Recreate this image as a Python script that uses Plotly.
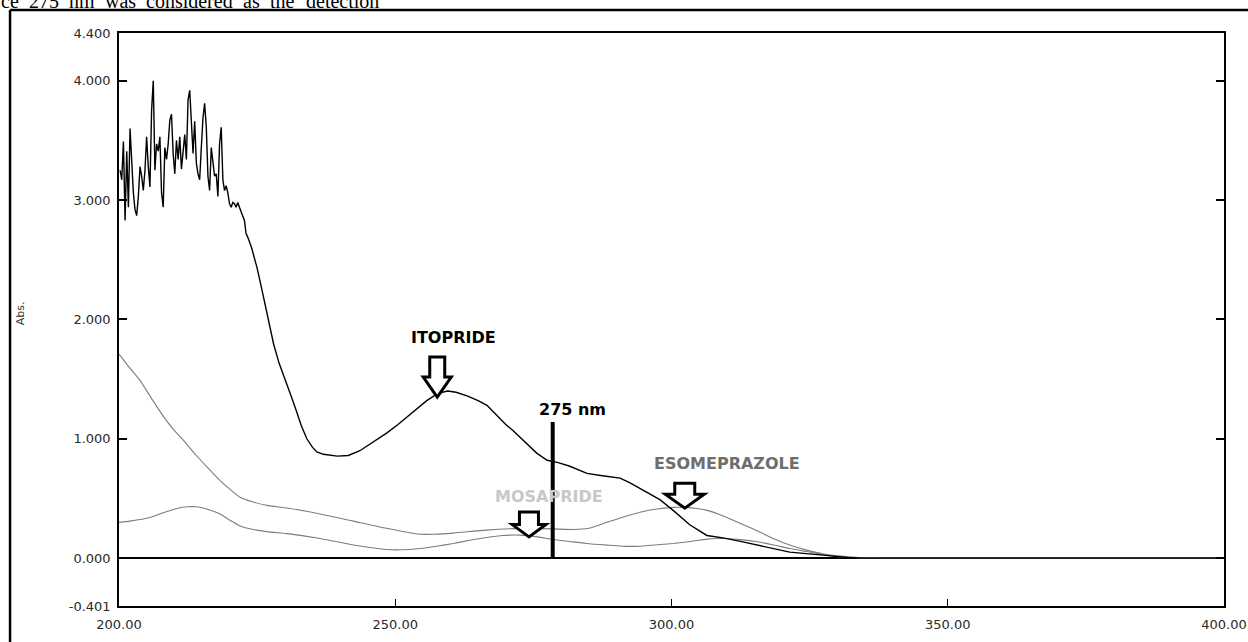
import plotly.graph_objects as go

# ---- Itopride (black trace): noisy short-wavelength region, then smooth band ----
itopride_nm = [
    200.2, 200.5, 200.8, 201.1, 201.4, 201.7, 202.0, 202.3, 202.6, 202.9,
    203.2, 203.5, 203.8, 204.1, 204.4, 204.7, 205.0, 205.3, 205.6, 205.9,
    206.2, 206.5, 206.8, 207.1, 207.4, 207.7, 208.0, 208.3, 208.6, 208.9,
    209.2, 209.5, 209.8, 210.1, 210.4, 210.7, 211.0, 211.3, 211.6, 211.9,
    212.2, 212.5, 212.8, 213.1, 213.4, 213.7, 214.0, 214.3, 214.6, 214.9,
    215.2, 215.5, 215.8, 216.1, 216.4, 216.7, 217.0, 217.3, 217.6, 217.9,
    218.2, 218.5, 218.8, 219.1, 219.4, 219.7, 220.0, 220.3, 220.6, 220.9,
    221.2, 221.5, 221.8, 222.1, 222.4, 222.7, 223.0, 223.3,
    224.0, 225.0, 226.0, 227.0, 228.0, 229.0, 230.4, 231.3, 232.2, 233.0,
    234.0, 235.0, 235.8, 237.0, 239.5, 241.5, 243.6, 246.0, 248.5, 250.5,
    252.1, 254.0, 255.7, 257.7, 259.5, 261.0, 263.0, 265.0, 266.6, 268.5,
    270.0, 271.3, 273.5, 275.6, 277.5, 279.5, 281.6, 284.7, 287.5, 290.7,
    292.5, 294.8, 297.9, 300.3, 303.3, 306.4, 309.3, 312.5, 315.5, 321.4,
    327.4, 331.8, 335.0, 400.0,
]
itopride_abs = [
    3.25, 3.17, 3.49, 2.83, 3.41, 2.94, 3.60, 3.34, 3.06, 2.92,
    2.87, 3.03, 3.28, 3.20, 3.08, 3.25, 3.53, 3.28, 3.11, 3.75,
    4.00, 3.25, 3.47, 3.41, 3.53, 3.06, 2.94, 3.44, 3.34, 3.47,
    3.67, 3.72, 3.39, 3.22, 3.50, 3.34, 3.53, 3.26, 3.41, 3.55,
    3.34, 3.84, 3.92, 3.61, 3.39, 3.66, 3.31, 3.22, 3.17, 3.44,
    3.69, 3.81, 3.61, 3.20, 3.08, 3.44, 3.31, 3.20, 3.22, 3.03,
    3.47, 3.61, 3.17, 3.08, 3.12, 3.06, 2.97, 2.94, 2.98, 2.97,
    2.94, 2.98, 2.94, 2.90, 2.87, 2.83, 2.72, 2.69,
    2.60, 2.43, 2.22, 1.99, 1.79, 1.63, 1.46, 1.34, 1.22, 1.11,
    1.00, 0.93, 0.89, 0.87, 0.855, 0.86, 0.90, 0.97, 1.05, 1.12,
    1.18, 1.25, 1.32, 1.38, 1.40, 1.39, 1.36, 1.32, 1.28, 1.19,
    1.12, 1.07, 0.97, 0.88, 0.82, 0.80, 0.77, 0.71, 0.69, 0.67,
    0.63, 0.57, 0.49, 0.40, 0.28, 0.19, 0.17, 0.14, 0.11, 0.05,
    0.025, 0.005, 0.0, 0.0,
]

# ---- Esomeprazole (grey trace starting high) ----
esome_nm = [
    200.0, 201.5, 203.8, 206.0, 208.0, 210.0, 211.6, 214.0, 216.0, 218.3,
    220.0, 221.9, 224.3, 227.0, 230.4, 236.4, 242.4, 248.4, 254.5, 257.0,
    260.5, 266.5, 272.6, 278.6, 282.2, 285.0, 288.3, 291.0, 294.3, 297.0,
    300.3, 302.5, 304.6, 306.5, 308.2, 310.3, 312.4, 315.5, 318.4, 321.4,
    324.5, 327.5, 330.5, 334.0, 339.0, 400.0,
]
esome_abs = [
    1.71, 1.62, 1.49, 1.33, 1.19, 1.07, 0.99, 0.86, 0.76, 0.65,
    0.58, 0.51, 0.47, 0.44, 0.42, 0.37, 0.31, 0.25, 0.20, 0.20,
    0.21, 0.235, 0.249, 0.245, 0.24, 0.25, 0.30, 0.34, 0.385, 0.41,
    0.425, 0.425, 0.416, 0.40, 0.374, 0.335, 0.293, 0.23, 0.165, 0.11,
    0.067, 0.035, 0.017, 0.005, 0.0, 0.0,
]

# ---- Mosapride (grey trace starting low, hump near 213 nm) ----
mosa_nm = [
    200.0, 202.0, 205.6, 208.0, 210.0, 212.3, 214.0, 216.0, 218.3, 220.0,
    221.9, 224.3, 227.0, 230.4, 236.4, 242.4, 248.4, 251.0, 254.5, 257.5,
    260.5, 263.5, 266.5, 269.5, 272.6, 275.5, 278.6, 281.5, 284.6, 288.3,
    291.0, 294.3, 297.0, 300.3, 303.5, 306.4, 308.5, 310.0, 312.5, 315.5,
    318.5, 321.4, 324.5, 327.4, 330.0, 333.0, 336.0, 400.0,
]
mosa_abs = [
    0.30, 0.31, 0.34, 0.38, 0.41, 0.43, 0.43, 0.41, 0.37, 0.32,
    0.27, 0.24, 0.22, 0.205, 0.165, 0.11, 0.073, 0.07, 0.081, 0.10,
    0.123, 0.15, 0.173, 0.19, 0.193, 0.18, 0.156, 0.14, 0.123, 0.109,
    0.10, 0.10, 0.11, 0.123, 0.14, 0.159, 0.165, 0.165, 0.155, 0.137,
    0.11, 0.081, 0.055, 0.031, 0.012, 0.003, 0.0, 0.0,
]

# ---- Axis ticks ----
x_tickvals = [200, 250, 300, 350, 400]
x_ticktext = ["200.00", "250.00", "300.00", "350.00", "400.00"]
y_tickvals = [-0.401, 0, 1, 2, 3, 4, 4.4]
y_ticktext = ["-0.401", "0.000", "1.000", "2.000", "3.000", "4.000", "4.400"]
X_RANGE = [200, 400]
Y_RANGE = [-0.401, 4.4]

# detection wavelength marker (drawn where the vertical bar sits on the scan)
marker_nm = 278.5
marker_top = 1.14

GREY = "#7c7c7c"

fig = go.Figure()
fig.add_trace(go.Scatter(x=esome_nm, y=esome_abs, mode="lines",
                         line=dict(color=GREY, width=1.1, shape="spline", smoothing=0.6),
                         hoverinfo="skip", showlegend=False))
fig.add_trace(go.Scatter(x=mosa_nm, y=mosa_abs, mode="lines",
                         line=dict(color=GREY, width=1.1, shape="spline", smoothing=0.6),
                         hoverinfo="skip", showlegend=False))
fig.add_trace(go.Scatter(x=itopride_nm, y=itopride_abs, mode="lines",
                         line=dict(color="black", width=1.4),
                         hoverinfo="skip", showlegend=False))

# vertical detection-wavelength bar
fig.add_shape(type="line", xref="x", yref="y", x0=marker_nm, x1=marker_nm,
              y0=0, y1=marker_top, line=dict(color="black", width=4))


def down_arrow(x_nm, y_abs, height, head_h, head_hw, shaft_hw):
    """Hollow downward arrow whose tip sits at (x_nm, y_abs); sizes in pixels."""
    p = (f"M 0 0 L {-head_hw} {head_h} L {-shaft_hw} {head_h} L {-shaft_hw} {height} "
         f"L {shaft_hw} {height} L {shaft_hw} {head_h} L {head_hw} {head_h} Z")
    fig.add_shape(type="path", xref="x", yref="y", xsizemode="pixel", ysizemode="pixel",
                  xanchor=x_nm, yanchor=y_abs, path=p,
                  line=dict(color="black", width=3), fillcolor="white")


down_arrow(257.6, 1.35, 40, 20, 14, 7.5)     # itopride
down_arrow(274.2, 0.178, 25, 12.5, 17, 9.5)  # mosapride
down_arrow(302.4, 0.419, 25, 14, 19.5, 10)   # esomeprazole

LABEL_FONT = "DejaVu Sans"
fig.add_annotation(x=260.5, y=1.852, xref="x", yref="y", text="<b>ITOPRIDE</b>",
                   showarrow=False, font=dict(family=LABEL_FONT, size=16, color="black"))
fig.add_annotation(x=277.8, y=0.52, xref="x", yref="y", text="<b>MOSAPRIDE</b>",
                   showarrow=False, font=dict(family=LABEL_FONT, size=16, color="#c8c8c8"))
fig.add_annotation(x=310.0, y=0.796, xref="x", yref="y", text="<b>ESOMEPRAZOLE</b>",
                   showarrow=False, font=dict(family=LABEL_FONT, size=16, color="#6e6e6e"))
fig.add_annotation(x=282.0, y=1.248, xref="x", yref="y", text="<b>275 nm</b>",
                   showarrow=False, font=dict(family=LABEL_FONT, size=16, color="black"))

# axis titles
fig.add_annotation(x=-0.0896, y=0.511, xref="paper", yref="paper", text="Abs.",
                   textangle=-90, xanchor="center", yanchor="middle", showarrow=False,
                   font=dict(family="DejaVu Sans", size=11, color="#333"))
fig.add_annotation(x=0.4977, y=-0.052, xref="paper", yref="paper", text="nm",
                   xanchor="center", yanchor="top", showarrow=False,
                   font=dict(family="DejaVu Sans", size=13, color="#333"))

# running (justified) text of the surrounding page, cut by the top edge
words = ["ce", "275", "nm", "was", "considered", "as", "the", "detection"]
word_px = [-1, 27, 67, 103, 144, 241, 268, 304]
for w, px in zip(words, word_px):
    fig.add_annotation(x=(px - 119) / 1105, y=1.0332, xref="paper", yref="paper",
                       text=w, xanchor="left", yanchor="bottom", showarrow=False,
                       font=dict(family="Liberation Serif", size=20, color="black"))

# page frame around the figure
fig.add_shape(type="line", xref="paper", yref="paper", x0=-0.0986, x1=-0.0986,
              y0=1.0401, y1=-0.07, line=dict(color="black", width=2.5))
fig.add_shape(type="line", xref="paper", yref="paper", x0=-0.0986, x1=1.03,
              y0=1.0401, y1=1.0401, line=dict(color="black", width=2.5))

fig.update_layout(
    template="none",
    width=1248, height=642,
    margin=dict(l=119, r=24, t=33, b=36, autoexpand=False),
    paper_bgcolor="white", plot_bgcolor="white",
    xaxis=dict(range=X_RANGE, tickvals=x_tickvals, ticktext=x_ticktext,
               ticks="inside", ticklen=7, tickwidth=1.2, tickcolor="black",
               showline=True, linecolor="black", linewidth=1.5, mirror=True,
               showgrid=False, zeroline=False, ticklabelstandoff=6, automargin=False,
               tickfont=dict(family="DejaVu Sans", size=13, color="#2a2a2a")),
    yaxis=dict(range=Y_RANGE, tickvals=y_tickvals, ticktext=y_ticktext,
               ticks="inside", ticklen=8, tickwidth=1.5, tickcolor="black",
               showline=True, linecolor="black", linewidth=1.5, mirror="ticks",
               showgrid=False, zeroline=True, zerolinecolor="black", zerolinewidth=2,
               ticklabelstandoff=4, automargin=False,
               tickfont=dict(family="DejaVu Sans", size=13, color="#2a2a2a")),
)

fig.write_html("out.html")
